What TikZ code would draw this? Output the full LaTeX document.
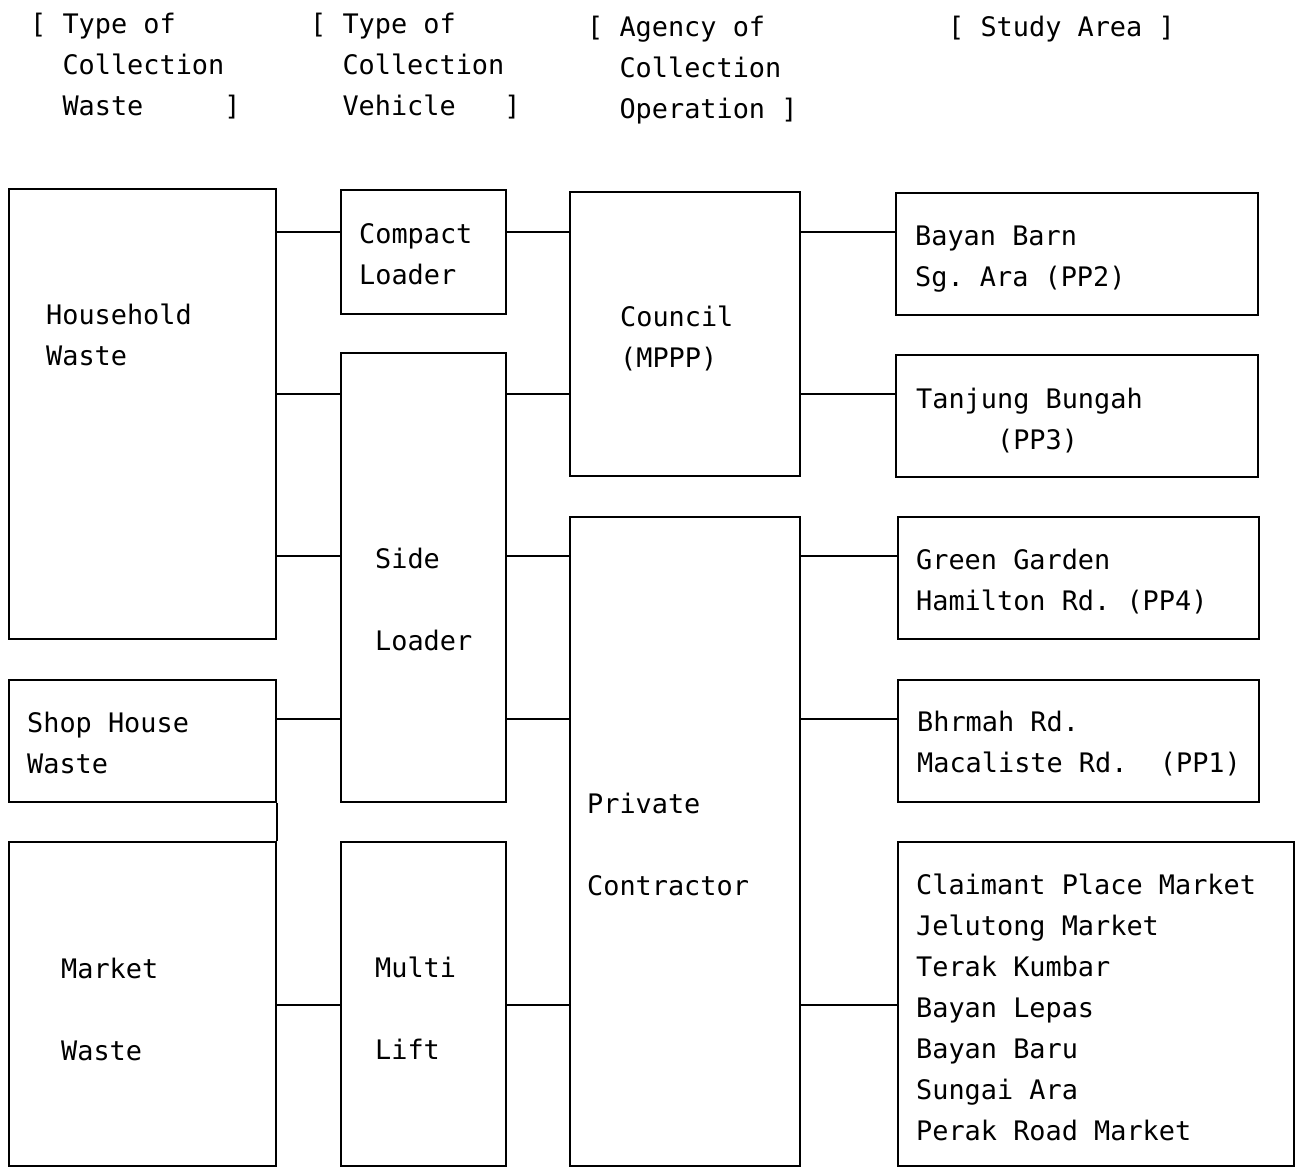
\documentclass[tikz,border=0pt]{standalone}
\usepackage{fontspec}
\setmonofont{DejaVu Sans Mono}
\usetikzlibrary{fit}

\begin{document}
\begin{tikzpicture}[x=0.02cm, y=-0.02cm, line width=1.3pt,
    box/.style={draw, inner sep=0pt},
    lbl/.style={anchor=north west, inner sep=0pt, align=left,
                font=\ttfamily\fontsize{15.3}{23.3}\selectfont}]
    \useasboundingbox (0,0) rectangle (1297,1168);

    % column headings
    \node[lbl] (hwaste) at (29,12) {[~Type~of\\~~Collection\\~~Waste~~~~~]};
    \node[lbl] (hveh) at (309,12) {[~Type~of\\~~Collection\\~~Vehicle~~~]};
    \node[lbl] (hagency) at (586,15) {[~Agency~of\\~~Collection\\~~Operation~]};
    \node[lbl] (harea) at (947,15) {[~Study~Area~]};

    % type of collection waste
    \node[box, fit={(9,189) (276,639)}] (hh) {};
    \node[box, fit={(9,680) (276,802)}] (sh) {};
    \node[box, fit={(9,842) (276,1166)}] (mk) {};
    \node[lbl] (hhtxt) at (45,303) {Household\\Waste};
    \node[lbl] (shtxt) at (26,711) {Shop House\\Waste};
    \node[lbl] (mktxt) at (60,957) {Market\\[23.3pt]Waste};

    % type of collection vehicle
    \node[box, fit={(341,190) (506,314)}] (cl) {};
    \node[box, fit={(341,353) (506,802)}] (sl) {};
    \node[box, fit={(341,842) (506,1166)}] (ml) {};
    \node[lbl] (cltxt) at (358,222) {Compact\\Loader};
    \node[lbl] (sltxt) at (374,547) {Side\\[23.3pt]Loader};
    \node[lbl] (mltxt) at (374,956) {Multi\\[23.3pt]Lift};

    % agency of collection operation
    \node[box, fit={(570,192) (800,476)}] (co) {};
    \node[box, fit={(570,517) (800,1166)}] (pc) {};
    \node[lbl] (cotxt) at (619,305) {Council\\(MPPP)};
    \node[lbl] (pctxt) at (586,792) {Private\\[23.3pt]Contractor};

    % study area
    \node[box, fit={(896,193) (1258,315)}] (ba) {};
    \node[box, fit={(896,355) (1258,477)}] (tb) {};
    \node[box, fit={(898,517) (1259,639)}] (gg) {};
    \node[box, fit={(898,680) (1259,802)}] (bh) {};
    \node[box, fit={(898,842) (1294,1166)}] (cm) {};
    \node[lbl] (batxt) at (914,225) {Bayan Barn\\Sg. Ara (PP2)};
    \node[lbl] (tbtxt) at (915,387) {Tanjung Bungah\\~~~~~(PP3)};
    \node[lbl] (ggtxt) at (915,548) {Green Garden\\Hamilton Rd. (PP4)};
    \node[lbl] (bhtxt) at (916,710) {Bhrmah Rd.\\Macaliste Rd.~~(PP1)};
    \node[lbl] (cmtxt) at (915,873) {Claimant Place Market\\Jelutong Market\\Terak Kumbar\\Bayan Lepas\\Bayan Baru\\Sungai Ara\\Perak Road Market};

    % rows of the links
    \coordinate (r1) at (0,232);
    \coordinate (r2) at (0,394);
    \coordinate (r3) at (0,556);
    \coordinate (r4) at (0,719);
    \coordinate (r5) at (0,1005);

    \draw (hh.east |- r1) -- (cl.west |- r1);
    \draw (hh.east |- r2) -- (sl.west |- r2);
    \draw (hh.east |- r3) -- (sl.west |- r3);
    \draw (sh.east |- r4) -- (sl.west |- r4);
    \draw (mk.east |- r5) -- (ml.west |- r5);
    \draw (sh.south east) -- (mk.north east);

    \draw (cl.east |- r1) -- (co.west |- r1);
    \draw (sl.east |- r2) -- (co.west |- r2);
    \draw (sl.east |- r3) -- (pc.west |- r3);
    \draw (sl.east |- r4) -- (pc.west |- r4);
    \draw (ml.east |- r5) -- (pc.west |- r5);

    \draw (co.east |- r1) -- (ba.west |- r1);
    \draw (co.east |- r2) -- (tb.west |- r2);
    \draw (pc.east |- r3) -- (gg.west |- r3);
    \draw (pc.east |- r4) -- (bh.west |- r4);
    \draw (pc.east |- r5) -- (cm.west |- r5);
\end{tikzpicture}
\end{document}
